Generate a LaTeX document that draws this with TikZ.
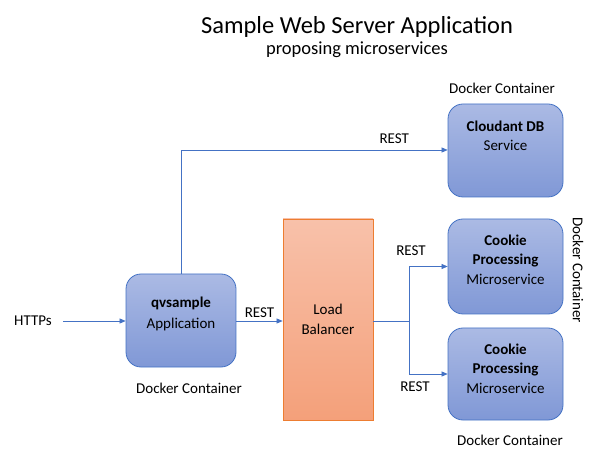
\documentclass[tikz,border=0pt]{standalone}
\usepackage{fontspec}
\setmainfont{Carlito}
\usetikzlibrary{positioning,arrows.meta}
\definecolor{c1}{RGB}{68,114,196}
\definecolor{c2}{RGB}{171,186,228}
\definecolor{c3}{RGB}{128,152,214}
\definecolor{c4}{RGB}{237,125,49}
\definecolor{c5}{RGB}{248,193,170}
\definecolor{c6}{RGB}{244,160,122}
\tikzstyle{diagram}=[
    x=1pt, y=1pt,
    every node/.style={font={\fontsize{15}{19.5}\selectfont}},
    box/.style={draw=c1, thick, rounded corners=15pt, top color=c2, bottom color=c3},
    balancer/.style={draw=c4, thick, top color=c5, bottom color=c6, align=center},
    box text/.style={align=center, inner sep=0pt},
    link/.style={c1, semithick, -{Triangle[length=6pt,width=5pt]}},
    title/.style={font={\fontsize{24.5}{28}\selectfont}},
    subtitle/.style={font={\fontsize{18.5}{22}\selectfont}},
]

\begin{document}
\begin{tikzpicture}[diagram]
    \useasboundingbox (0,0) rectangle (612,471);
    % titles
    \node[title] (title) at (357,444) {Sample Web Server Application};
    \node[subtitle] (subtitle) at (357,421) {proposing microservices};

    % boxes
    \node[box, minimum width=110pt, minimum height=93pt] (qvsample) at (181,150.5) {};
    \node[box text, below=23pt of qvsample.north, font={\fontsize{15}{21}\selectfont}] (qvtext) {\textbf{qvsample}\\Application};
    \node[balancer, minimum width=90pt, minimum height=201pt] (lb) at (328,151.5) {Load\\Balancer};
    \node[box, minimum width=115pt, minimum height=93pt] (cloudant) at (505.5,320.5) {};
    \node[box text, below=17pt of cloudant.north] (cloudanttext) {\textbf{Cloudant DB}\\Service};
    \node[box, minimum width=115pt, minimum height=95pt] (cookieA) at (505.5,204.5) {};
    \node[box text, below=16pt of cookieA.north] (cookieAtext) {\textbf{Cookie}\\\textbf{Processing}\\Microservice};
    \node[box, minimum width=115pt, minimum height=92pt] (cookieB) at (505.5,97) {};
    \node[box text, below=16pt of cookieB.north] (cookieBtext) {\textbf{Cookie}\\\textbf{Processing}\\Microservice};

    % docker labels
    \node (dockerQ) at (189,83) {Docker Container};
    \node (dockerC) at (502,383) {Docker Container};
    \node[rotate=-90] (dockerA) at (578,201) {Docker Container};
    \node (dockerB) at (510,31) {Docker Container};

    % connectors
    \node (https) at (33,150) {HTTPs};
    \draw[link] (https.east) ++(8,0) -- (qvsample.west |- https);
    \draw[link] (qvsample.east |- https) -- node[above, black] {REST} (lb.west |- https);
    \coordinate (up) at (181,321);
    \draw[link] (qvsample.north) -- (qvsample.north |- up) -- node[above=3pt, black, pos=0.8] {REST} (cloudant.west |- up);
    \coordinate (split) at (409,150);
    \draw[c1, semithick] (lb.east |- split) -- (split);
    \draw[link] (split) |- (cookieA.west);
    \draw[link] (split) |- (cookieB.west);
    \node (restA) at (411,220) {REST};
    \node (restB) at (415,84) {REST};
\end{tikzpicture}
\end{document}
